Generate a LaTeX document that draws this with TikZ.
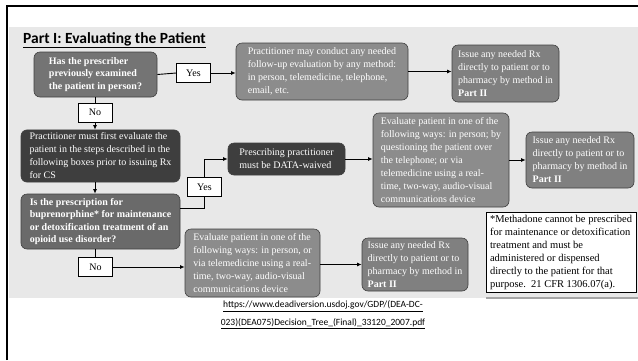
\documentclass[tikz,border=0pt]{standalone}
\usepackage{fontspec}
\setmainfont{Liberation Serif}
\newfontfamily\titlefont{Carlito}
\usepackage{xcolor}
\usetikzlibrary{arrows.meta}

\definecolor{band}{HTML}{E8E8E8}
\definecolor{qgray}{HTML}{747474}
\definecolor{midgray}{HTML}{8C8C8C}
\definecolor{rxgray}{HTML}{808080}
\definecolor{darkgray}{HTML}{3E3E3E}
\definecolor{bupgray}{HTML}{6A6A6A}

\begin{document}
\begin{tikzpicture}[x=1pt, y=-1pt, inner sep=3pt,
    box/.style={draw=black!75, line width=0.6pt, rounded corners=6pt, text=white, align=left,
      font=\fontsize{10}{13}\selectfont},
    qbox/.style={box, font=\fontsize{10}{12.5}\selectfont\bfseries},
    answer/.style={draw, line width=0.6pt, fill=white, inner sep=0pt, minimum width=34pt,
      minimum height=19pt, font=\fontsize{10}{12}\selectfont},
    line/.style={line width=0.9pt},
    arr/.style={line, -{Latex[length=4.5pt,width=4pt]}}]
    \useasboundingbox (0,0) rectangle (638,360);
    \fill[white] (0,0) rectangle (638,360);
    \fill[band] (9,27) rectangle (638,298);
    \draw[black!35, line width=1.2pt] (486,298) -- (638,298);
    \draw[line width=2.5pt] (7,360) -- (7,6) -- (638,6);

    \node[anchor=base west, inner sep=0pt, font={\titlefont\bfseries\fontsize{15.5}{18}\selectfont}] (title) at (23,43)
      {\underline{Part I: Evaluating the Patient}};

    \node[qbox, fill=qgray, minimum width=123pt, minimum height=45pt] (examined) at (95.5,74.5)
      {Has the prescriber\\previously examined\\the patient in person?};
    \node[answer] (yes1) at (193.5,73) {Yes};
    \node[box, fill=midgray, minimum width=172pt, minimum height=57pt] (followup) at (322,71.5)
      {Practitioner may conduct any needed\\follow-up evaluation by any method:\\in person, telemedicine, telephone,\\email, etc.};
    \node[box, fill=rxgray, minimum width=107pt, minimum height=57pt] (rxa) at (505.5,73.5)
      {Issue any needed Rx\\directly to patient or to\\pharmacy by method in\\\textbf{Part II}};
    \node[answer] (no1) at (95,112.5) {No};
    \node[box, fill=darkgray, minimum width=159pt, minimum height=52pt] (mustfirst) at (100.5,156)
      {Practitioner must first evaluate the\\patient in the steps described in the\\following boxes prior to issuing Rx\\for CS};
    \node[qbox, fill=bupgray, minimum width=159pt, minimum height=55pt] (bup) at (100.5,221.5)
      {Is the prescription for\\buprenorphine* for maintenance\\or detoxification treatment of an\\opioid use disorder?};
    \node[answer] (yes2) at (204.5,187) {Yes};
    \node[box, fill=darkgray, minimum width=117pt, minimum height=32pt] (waived) at (286.5,159)
      {Prescribing practitioner\\must be DATA-waived};
    \node[box, fill=midgray, minimum width=136pt, minimum height=94pt] (evalphone) at (441,160)
      {Evaluate patient in one of the\\following ways: in person; by\\questioning the patient over\\the telephone; or via\\telemedicine using a real-\\time, two-way, audio-visual\\communications device};
    \node[box, fill=rxgray, minimum width=108pt, minimum height=56pt] (rxb) at (580,160)
      {Issue any needed Rx\\directly to patient or to\\pharmacy by method in\\\textbf{Part II}};
    \node[answer] (no2) at (95.5,267) {No};
    \node[box, fill=midgray, minimum width=135pt, minimum height=68pt] (evaltele) at (252.5,263)
      {Evaluate patient in one of the\\following ways: in person, or\\via telemedicine using a real-\\time, two-way, audio-visual\\communications device};
    \node[box, fill=rxgray, minimum width=106pt, minimum height=53pt] (rxc) at (415,264.5)
      {Issue any needed Rx\\directly to patient or to\\pharmacy by method in\\\textbf{Part II}};
    \node[draw, line width=0.8pt, fill=white, align=left, minimum width=150pt, minimum height=79pt,
      font=\fontsize{10.5}{13}\selectfont] (note) at (561,252.5)
      {*Methadone cannot be prescribed\\for maintenance or detoxification\\treatment and must be\\administered or dispensed\\directly to the patient for that\\purpose.\ \ 21 CFR 1306.07(a).};

    \node[align=center, font={\titlefont\fontsize{9.5}{18}\selectfont}] (url) at (323,315)
      {\underline{https://www.deadiversion.usdoj.gov/GDP/(DEA-DC-}\\
       \underline{023)(DEA075)Decision\_Tree\_(Final)\_33120\_2007.pdf}};

    \draw[line] (examined.east) -- (yes1.west);
    \draw[arr] (yes1.east) -- (yes1.east -| followup.west);
    \draw[arr] (followup.east) -- (followup.east -| rxa.west);
    \draw[line] (examined.south -| no1) -- (no1.north);
    \draw[arr] (no1.south) -- (no1.south |- mustfirst.north);
    \draw[arr] (mustfirst.south -| no1) -- (bup.north -| no1);
    \draw[line] ([yshift=13pt]bup.east) -| (yes2.south);
    \draw[arr] (yes2.north) |- (waived.west);
    \draw[arr] (waived.east) -- (waived.east -| evalphone.west);
    \draw[arr] (evalphone.east) -- (evalphone.east -| rxb.west);
    \draw[line] (bup.south -| no2) -- (no2.north);
    \draw[arr] (no2.east) -- (no2.east -| evaltele.west);
    \draw[arr] (rxc.west -| evaltele.east) -- (rxc.west);
\end{tikzpicture}
\end{document}
